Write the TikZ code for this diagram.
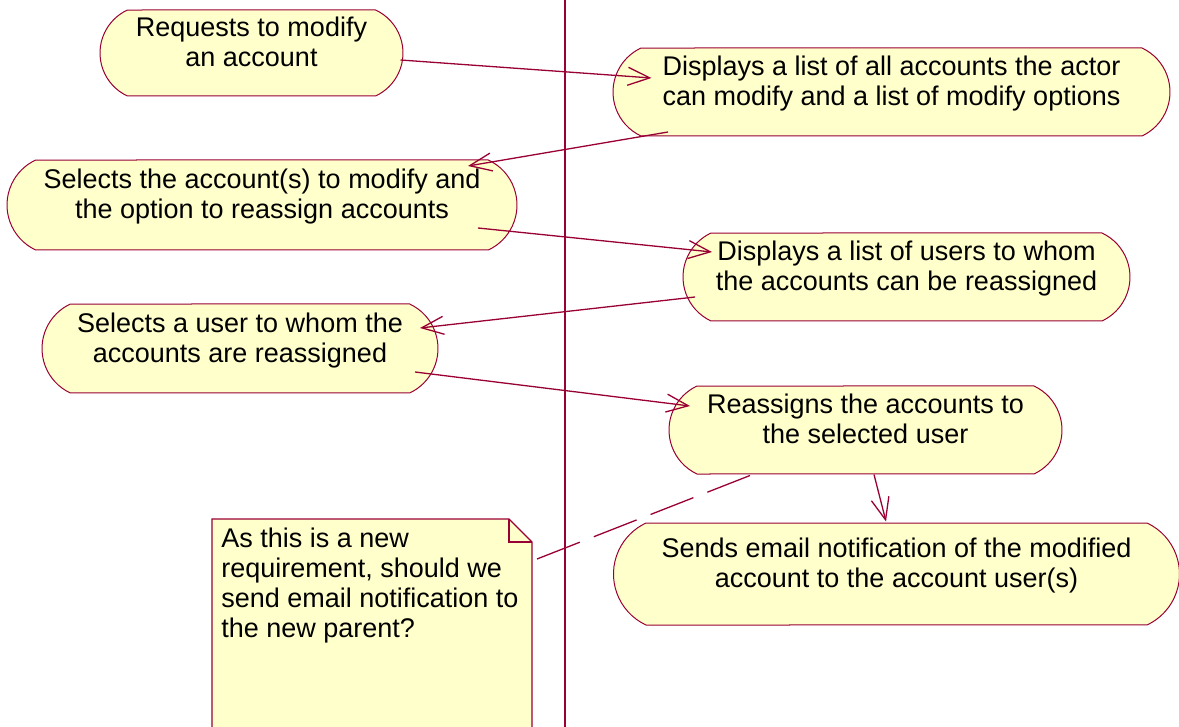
\documentclass[tikz,border=0pt]{standalone}
\usepackage{fontspec}
\setmainfont{Liberation Sans}
\usetikzlibrary{shapes.misc,arrows.meta}
\definecolor{umlline}{RGB}{153,0,51}
\definecolor{umlfill}{RGB}{255,255,204}
\tikzset{
  activity/.style={rounded rectangle, rounded rectangle arc length=130,
    draw=umlline, fill=umlfill, line width=.5pt, inner sep=0pt,
    align=center, text depth=11pt},
  flow/.style={draw=umlline, line width=.65pt,
    -{Straight Barb[length=11pt,width=9pt]}},
  notelink/.style={draw=umlline, line width=.65pt, dash pattern=on 23pt off 7.5pt},
  notebox/.style={draw=umlline, line width=.6pt},
  notetext/.style={inner xsep=4.5pt, inner ysep=4.5pt, align=left},
  lane/.style={draw=umlline, line width=.65pt}
}
\begin{document}
\begin{tikzpicture}[x=0.5pt,y=-0.5pt,font=\fontsize{13.5}{15}\selectfont]
\useasboundingbox (0,0) rectangle (1179,727);
% swimlane divider
\draw[lane] (565,0) -- (565,727);

% activities
\node[activity, minimum width=151.5pt, minimum height=43pt] (req) at (251.5,53)
  {Requests to modify\\an account};
\node[activity, minimum width=278.5pt, minimum height=44pt] (disp1) at (891.5,92)
  {Displays a list of all accounts the actor\\can modify and a list of modify options};
\node[activity, minimum width=255pt, minimum height=45pt] (sel1) at (262,205)
  {Selects the account(s) to modify and\\the option to reassign accounts};
\node[activity, minimum width=223.5pt, minimum height=44pt] (disp2) at (906.5,277)
  {Displays a list of users to whom\\the accounts can be reassigned};
\node[activity, minimum width=198pt, minimum height=44.5pt] (sel2) at (240,348.5)
  {Selects a user to whom the\\accounts are reassigned};
\node[activity, minimum width=196.5pt, minimum height=44pt] (reas) at (865.5,430)
  {Reassigns the accounts to\\the selected user};
\node[activity, minimum width=283pt, minimum height=51pt] (send) at (896.5,574)
  {Sends email notification of the modified\\account to the account user(s)};

% note
\coordinate (notecorner) at (212,519);
\fill[umlfill] (notecorner) -- ++(297,0) -- ++(23,23) -- ++(0,190) -- ++(-320,0) -- cycle;
\draw[notebox] ([yshift=-4pt]notecorner |- 0,730) -- (notecorner) -- ++(297,0) -- ++(23,23) -- ++(0,190);
\draw[notebox] ([shift={(297,0)}]notecorner) -- ++(0,23) -- ++(23,0);
\node[notetext, anchor=north west] (note) at (notecorner)
  {As this is a new\\requirement, should we\\send email notification to\\the new parent?};

% control flow
\draw[flow] ([shift={(-3,7)}]req.east) -- ([shift={(39,-14)}]disp1.west);
\draw[flow] ([shift={(-223.5,40)}]disp1.center) -- ([shift={(206,-39)}]sel1.center);
\draw[flow] ([shift={(216,23)}]sel1.center) -- ([shift={(-194.5,-25)}]disp2.center);
\draw[flow] ([shift={(-211.5,20)}]disp2.center) -- ([shift={(180,-20.5)}]sel2.center);
\draw[flow] ([shift={(175,23.5)}]sel2.center) -- ([shift={(-175.5,-24)}]reas.center);
\draw[flow] ([shift={(8.5,0)}]reas.south) -- ([shift={(-10.5,-1)}]send.north);
\draw[notelink] ([shift={(325,40)}]notecorner) -- ([shift={(-115.5,1)}]reas.south);
\end{tikzpicture}
\end{document}
